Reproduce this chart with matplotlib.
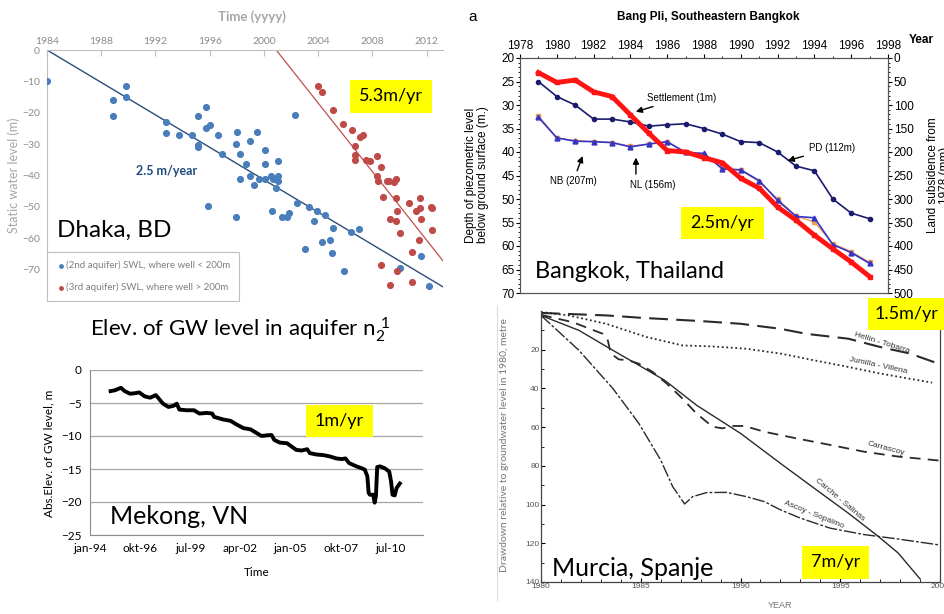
import matplotlib.pyplot as plt
from matplotlib.patches import Rectangle
from matplotlib.lines import Line2D

W, H = 944, 614
NARROW = ['Liberation Sans Narrow', 'Lato', 'DejaVu Sans']
CAL = ['Lato', 'DejaVu Sans']
ARIAL = ['Liberation Sans', 'DejaVu Sans']

# ---- Dhaka, BD (static water level, m) ----
dhaka_blue_year = [1984.0, 1988.85, 1988.85, 1989.8, 1989.8, 1992.75, 1992.75, 1993.7, 1994.7,
                   1995.15, 1995.15, 1995.15, 1995.7, 1995.7, 1996.0, 1995.9, 1996.6, 1996.9,
                   1998.0, 1997.9, 1998.2, 1998.2, 1997.9, 1998.7, 1999.0, 1999.0, 1999.3,
                   1999.5, 1999.6, 2000.1, 2000.1, 2000.1, 2000.5, 2000.6, 2000.7, 2000.9,
                   2001.0, 2001.0, 2001.0, 2001.3, 2001.7, 2001.85, 2002.3, 2002.4, 2003.0,
                   2003.3, 2003.7, 2003.9, 2004.3, 2004.5, 2004.9, 2005.0, 2005.1, 2005.9,
                   2006.4, 2007.0, 2010.0, 2011.6, 2012.2]
dhaka_blue_swl = [-9.9, -16, -21, -11.6, -15.1, -23.1, -26.3, -27, -27,
                  -21, -30.2, -31, -18.1, -25, -24, -49.7, -27, -33.2,
                  -26.2, -30, -33.2, -41.1, -53.1, -36.2, -28.9, -40, -43.1,
                  -26.2, -41.1, -32, -36.2, -41.1, -40, -51.2, -41.1, -44.1,
                  -41.9, -40, -35.5, -53.1, -53.1, -52.1, -20.7, -48.7, -63.3,
                  -50.1, -54.4, -51.2, -61.2, -52.7, -60.7, -64.7, -56.7, -70.3,
                  -58.1, -57.1, -69.5, -65.5, -75.2]
dhaka_red_year = [2004.0, 2004.3, 2005.1, 2005.85, 2006.5, 2006.7, 2006.7, 2006.7, 2007.1,
                  2007.3, 2007.5, 2007.8, 2008.3, 2008.3, 2008.4, 2008.6, 2008.8, 2009.1,
                  2009.2, 2009.6, 2009.7, 2009.7, 2009.8, 2009.3, 2009.7, 2010.0, 2008.65,
                  2009.3, 2009.8, 2010.7, 2011.2, 2011.5, 2011.5, 2011.6, 2011.4, 2010.9,
                  2010.9, 2012.3, 2012.4, 2012.4]
dhaka_red_swl = [-11.6, -13.4, -19.0, -23.5, -25.6, -30.5, -33.6, -35, -27.7,
                 -27, -35, -35.3, -33.9, -40, -41.9, -37.4, -46.7, -41.9,
                 -41.9, -42, -41.1, -47.3, -51.2, -53.8, -54.4, -58.4, -68.6,
                 -74.9, -70.3, -48.9, -51.2, -50.5, -47.1, -53.8, -60.5, -64.3,
                 -74, -50, -50.5, -57.3]
blue_trend_year = [1984.0, 2013.2]
blue_trend_swl = [0.0, -75.5]
red_trend_year = [2000.9, 2013.2]
red_trend_swl = [0.0, -67.2]

# ---- Bangkok (Bang Pli) ----
bkk_years = list(range(1979, 1998))
bkk_pd = [25.0, 28.2, 30.0, 33.0, 33.0, 33.6, 34.5, 34.2, 34.0, 35.0, 36.2, 37.8, 38.0,
          40.0, 43.0, 44.0, 50.0, 53.0, 54.2]
bkk_nb = [32.6, 37.0, 37.7, 37.8, 38.0, 38.9, 38.3, 37.8, 40.1, 40.3, 43.6, 43.8, 46.1,
          50.3, 53.7, 54.0, 59.7, 61.4, 63.7]
bkk_nl = [32.3, 37.0, 37.6, 37.8, 38.0, 38.8, 38.3, 37.9, 40.1, 40.6, 43.4, 43.9, 46.3,
          50.0, 53.6, 54.9, 59.5, 61.2, 63.5]
bkk_settlement_mm = [31, 52, 47, 72, 82, 121, 160, 197, 200, 212, 223, 256, 277,
                     317, 345, 377, 406, 434, 465]

# ---- Mekong, VN ----
mekong_year = [1995.13, 1995.37, 1995.55, 1995.7, 1995.9, 1996.2, 1996.5, 1996.7, 1997.0,
               1997.3, 1997.6, 1997.7, 1998.0, 1998.3, 1998.6, 1998.75, 1998.9, 1999.3,
               1999.7, 2000.0, 2000.4, 2000.7, 2000.8, 2001.3, 2001.7, 2002.0, 2002.4,
               2002.8, 2003.1, 2003.4, 2003.7, 2003.95, 2004.1, 2004.4, 2004.8, 2005.05,
               2005.3, 2005.6, 2005.9, 2006.05, 2006.4, 2006.8, 2007.15, 2007.5, 2007.8,
               2008.0, 2008.2, 2008.6, 2008.9, 2009.06, 2009.2, 2009.27, 2009.34, 2009.52,
               2009.6, 2009.67, 2009.74, 2009.9, 2010.16, 2010.4, 2010.5, 2010.58, 2010.7,
               2010.8, 2010.98]
mekong_level = [-3.2, -3.07, -2.86, -2.7, -3.2, -3.6, -3.5, -3.4, -4.0,
                -4.2, -3.8, -4.1, -5.1, -5.6, -5.4, -5.1, -6.0, -6.1,
                -6.1, -6.6, -6.5, -6.6, -7.1, -7.5, -7.7, -8.2, -8.8,
                -9.0, -9.5, -10.0, -9.9, -9.85, -10.6, -11.0, -11.1, -11.6,
                -12.1, -12.2, -12.0, -12.6, -12.8, -12.9, -13.1, -13.4, -13.5,
                -13.4, -14.1, -14.6, -14.9, -15.1, -16.1, -18.6, -18.9, -18.9,
                -20.1, -19.1, -14.7, -14.6, -14.9, -15.4, -16.9, -18.9, -19.0,
                -17.9, -17.2]
mekong_tick_pos = [1994.0, 1996.75, 1999.5, 2002.25, 2005.0, 2007.75, 2010.5]
mekong_tick_lab = ['jan-94', 'okt-96', 'jul-99', 'apr-02', 'jan-05', 'okt-07', 'jul-10']

# ---- Murcia, Spanje (drawdown, m) ----
hellin_year = [1980.0, 1983.3, 1985.0, 1988.0, 1990.0, 1992.0, 1993.3, 1995.4, 1997.0, 1998.5, 2000.0]
hellin_dd = [1.0, 2.3, 3.5, 5.2, 6.6, 9.2, 11.8, 14.3, 18.6, 22.0, 27.5]
jumilla_year = [1980.0, 1981.4, 1983.3, 1985.3, 1987.1, 1988.6, 1990.3, 1992.0, 1993.7, 1995.4, 1997.0, 1999.6]
jumilla_dd = [0.5, 2.3, 6.7, 13.5, 17.8, 18.3, 19.5, 22.0, 25.5, 28.9, 32.3, 37.0]
carrascoy_year = [1980.0, 1981.6, 1983.1, 1983.35, 1983.5, 1983.9, 1984.4, 1984.9, 1985.6, 1986.3,
                  1987.0, 1987.8, 1988.6, 1989.1, 1989.6, 1990.2, 1991.2, 1992.8, 1994.5,
                  1996.2, 1997.9, 2000.0]
carrascoy_dd = [2.0, 5.8, 11.8, 15.2, 22.0, 25.0, 25.5, 27.2, 31.5, 37.5,
                44.3, 53.0, 59.8, 60.6, 59.4, 59.4, 62.4, 65.8, 69.2,
                72.7, 75.2, 77.3]
carche_year = [1980.0, 1981.9, 1983.6, 1984.9, 1986.2, 1987.8, 1990.0, 1992.0, 1993.7, 1995.4,
               1996.9, 1997.9, 1999.0]
carche_dd = [2.3, 10.0, 20.3, 28.0, 35.8, 48.7, 63.2, 78.7, 91.6, 104.4, 116.4, 125.0, 138.4]
ascoy_year = [1980.0, 1981.9, 1983.6, 1984.9, 1986.0, 1986.6, 1987.2, 1987.6, 1988.3, 1989.3,
              1990.3, 1991.2, 1992.0, 1993.0, 1994.5, 1996.2, 1997.9, 2000.0]
ascoy_dd = [2.3, 20.3, 40.0, 58.0, 77.0, 90.7, 99.7, 95.9, 93.8, 93.7,
            95.9, 98.5, 102.7, 107.0, 112.2, 115.5, 117.8, 120.9]


fig = plt.figure(figsize=(W / 100, H / 100), dpi=100)


def ax_at(l, t, r, b):
    return fig.add_axes([l / W, 1 - b / H, (r - l) / W, (b - t) / H])


def ftext(px, py, s, **kw):
    return fig.text(px / W, 1 - py / H, s, **kw)


def yellow(l, t, r, b, s):
    fig.add_artist(Rectangle((l / W, 1 - b / H), (r - l) / W, (b - t) / H,
                             transform=fig.transFigure, facecolor='#ffff00',
                             edgecolor='none', zorder=10))
    ftext((l + r) / 2, (t + b) / 2, s, ha='center', va='center', fontsize=13,
          family=NARROW, zorder=11)


# ================= Dhaka =================
ax1 = ax_at(47, 50, 443, 301)
ax1.set_xlim(1984, 2013.2)
ax1.set_ylim(-80, 0)
ax1.xaxis.tick_top()
ax1.set_xticks(range(1984, 2013, 4))
ax1.set_yticks(range(0, -71, -10))
for s in ['bottom', 'right']:
    ax1.spines[s].set_visible(False)
for s in ['top', 'left']:
    ax1.spines[s].set_color('#bfbfbf')
ax1.tick_params(axis='x', colors='#bfbfbf', labelcolor='#8c8c8c', labelsize=7.5,
                direction='in', length=4, pad=3)
ax1.tick_params(axis='y', length=0, labelcolor='#8c8c8c', labelsize=7.5, pad=5)
for lab in ax1.get_xticklabels() + ax1.get_yticklabels():
    lab.set_family(CAL)
ax1.plot(blue_trend_year, blue_trend_swl, color='#2c4d7a', lw=1, zorder=2)
ax1.plot(red_trend_year, red_trend_swl, color='#c0504d', lw=0.9, zorder=2)
ax1.scatter(dhaka_blue_year, dhaka_blue_swl, s=17, color='#4a7ebb', zorder=3,
            label='(2nd aquifer) SWL, where well < 200m')
ax1.scatter(dhaka_red_year, dhaka_red_swl, s=17, color='#be4b48', zorder=3,
            label='(3rd aquifer) SWL, where well > 200m')
leg = ax1.legend(loc='lower left', bbox_to_anchor=(0, 0), borderaxespad=0, fontsize=7,
                 frameon=True, fancybox=False, edgecolor='#bfbfbf', framealpha=1,
                 handletextpad=0.1, handlelength=1.0, labelspacing=1.3, borderpad=0.9,
                 markerscale=0.6, prop={'family': CAL, 'size': 7})
for t in leg.get_texts():
    t.set_color('#7f7f7f')
leg.get_frame().set_linewidth(0.8)
ftext(252, 17, 'Time (yyyy)', ha='center', va='center', fontsize=9.5, color='#a6a6a6',
      weight='bold', family=CAL)
ftext(14, 175, 'Static water level (m)', ha='center', va='center', rotation=90,
      fontsize=9, color='#a6a6a6', family=CAL)
ftext(167, 171, '2.5 m/year', ha='center', va='center', fontsize=9, color='#1f497d',
      weight='bold', family=CAL)
ftext(57, 230, 'Dhaka, BD', ha='left', va='center', fontsize=17.5, family=CAL)
yellow(350, 80, 432, 113, '5.3m/yr')

# ================= Bangkok =================
ax2 = ax_at(520, 58, 888, 293)
ax2.set_xlim(1978, 1998)
ax2.set_ylim(70, 20)
ax2.xaxis.tick_top()
ax2.set_xticks(range(1978, 1999, 2))
ax2.set_xticks(range(1978, 1999), minor=True)
ax2.set_yticks(range(20, 71, 5))
ax2.set_yticks(range(20, 71), minor=True)
ax2.tick_params(which='both', direction='out', labelsize=8.5, pad=1)
ax2.tick_params(which='major', length=3)
ax2.tick_params(which='minor', length=1.5)
ax2.plot(bkk_years, bkk_nl, color='#f0a050', lw=1, marker='s', ms=2.5, zorder=2)
ax2.plot(bkk_years, bkk_nb, color='#3434c8', lw=1.2, marker='^', ms=3.5, zorder=3)
ax2.plot(bkk_years, bkk_pd, color='#1b1b6e', lw=1.2, marker='o', ms=3, zorder=3)
ax2r = ax2.twinx()
ax2r.set_ylim(500, 0)
ax2r.set_yticks(range(0, 501, 50))
ax2r.set_yticks(range(0, 501, 10), minor=True)
ax2r.tick_params(which='both', direction='out', labelsize=8.5, pad=1)
ax2r.tick_params(which='major', length=3)
ax2r.tick_params(which='minor', length=1.5)
ax2r.plot(bkk_years, bkk_settlement_mm, color='#ff1414', lw=3.5, marker='s', ms=3,
          solid_joinstyle='round', zorder=4)
for a in (ax2, ax2r):
    for lab in a.get_xticklabels() + a.get_yticklabels():
        lab.set_family(ARIAL)
    for s in a.spines.values():
        s.set_color('#555555')
arrow = dict(arrowstyle='-|>', color='black', lw=1, mutation_scale=9)
ax2.annotate('Settlement (1m)', xy=(1984.15, 31.6), xytext=(1984.9, 28.5),
             fontsize=7, family=ARIAL, va='center', ha='left', arrowprops=arrow)
ax2.annotate('PD (112m)', xy=(1992.4, 42.0), xytext=(1993.7, 39.2),
             fontsize=7, family=ARIAL, va='center', ha='left', arrowprops=arrow)
ax2.annotate('NB (207m)', xy=(1981.45, 40.3), xytext=(1980.9, 46.2),
             fontsize=7, family=ARIAL, va='center', ha='center', arrowprops=arrow)
ax2.annotate('NL (156m)', xy=(1984.3, 40.6), xytext=(1985.2, 47.1),
             fontsize=7, family=ARIAL, va='center', ha='center')
ax2.annotate('', xy=(1984.3, 40.6), xytext=(1984.3, 45.3), arrowprops=arrow)
ftext(473, 17, 'a', ha='center', va='center', fontsize=11, family=ARIAL)
ftext(708, 17, 'Bang Pli, Southeastern Bangkok', ha='center', va='center', fontsize=8.5,
      weight='bold', family=ARIAL)
ftext(921, 40, 'Year', ha='center', va='center', fontsize=8.5, weight='bold', family=ARIAL)
ftext(477, 175, 'Depth of piezometric level\nbelow ground surface (m.)', ha='center',
      va='center', rotation=90, fontsize=8.5, family=ARIAL, linespacing=1.1)
ftext(939, 175, 'Land subsidence from\n1978 (mm)', ha='center', va='center', rotation=90,
      fontsize=8.5, family=ARIAL, linespacing=1.1)
ftext(535, 271, 'Bangkok, Thailand', ha='left', va='center', fontsize=17, family=CAL)
yellow(681, 207, 764, 239, '2.5m/yr')

# ================= Mekong =================
ax3 = ax_at(90, 370, 423, 535)
ax3.set_xlim(1994, 2012.25)
ax3.set_ylim(-25, 0)
ax3.set_yticks(range(0, -26, -5))
ax3.set_xticks(mekong_tick_pos)
ax3.set_xticklabels(mekong_tick_lab)
ax3.grid(axis='y', color='#a6a6a6', lw=0.9)
ax3.set_axisbelow(True)
for s in ['top', 'right']:
    ax3.spines[s].set_visible(False)
for s in ['left', 'bottom']:
    ax3.spines[s].set_color('#8c8c8c')
ax3.tick_params(length=0, labelsize=8.5, pad=6)
for lab in ax3.get_xticklabels() + ax3.get_yticklabels():
    lab.set_family(CAL)
ax3.plot(mekong_year, mekong_level, color='black', lw=2.8, solid_joinstyle='round')
ftext(240, 330, r'Elev. of GW level in aquifer $\mathregular{n_2^{\ 1}}$', ha='center',
      va='center', fontsize=16, family=CAL)
ftext(49, 453, 'Abs.Elev. of GW level, m', ha='center', va='center', rotation=90,
      fontsize=8.5, family=CAL)
ftext(257, 573, 'Time', ha='center', va='center', fontsize=8.5, family=CAL)
ftext(110, 517, 'Mekong, VN', ha='left', va='center', fontsize=18, family=CAL)
yellow(306, 405, 373, 437, '1m/yr')

# ================= Murcia =================
ax4 = ax_at(541, 311, 940, 582)
ax4.set_xlim(1980, 2000)
ax4.set_ylim(140, 0)
ax4.set_xticks(range(1980, 2001, 5))
ax4.set_xticks(range(1980, 2001), minor=True)
ax4.set_yticks(range(20, 141, 20))
ax4.set_yticks(range(10, 141, 10), minor=True)
ax4.spines['top'].set_visible(False)
for s in ['left', 'bottom', 'right']:
    ax4.spines[s].set_color('#444444')
    ax4.spines[s].set_linewidth(0.9)
ax4.tick_params(which='both', direction='in', labelsize=6, labelcolor='#555555', pad=1,
                right=False)
ax4.tick_params(which='major', length=3)
ax4.tick_params(which='minor', length=2)
c4 = '#2a2a2a'
ax4.plot(hellin_year, hellin_dd, color=c4, lw=1.5, dashes=(9, 4))
ax4.plot(jumilla_year, jumilla_dd, color=c4, lw=1.3, dashes=(1, 1.5))
ax4.plot(carrascoy_year, carrascoy_dd, color=c4, lw=1.3, dashes=(6, 4))
ax4.plot(carche_year, carche_dd, color=c4, lw=1.0)
ax4.plot(ascoy_year, ascoy_dd, color=c4, lw=1.0, dashes=(9, 1.5, 2, 1.5))
for (x, y, s, rot) in [(1997.1, 16.6, 'Hellin - Tobarra', -17),
                       (1996.9, 28.4, 'Jumilla - Villena', -12),
                       (1997.3, 70.9, 'Carrascoy', -15),
                       (1995.0, 97.8, 'Carche - Salinas', -40),
                       (1993.7, 105.5, 'Ascoy - Sopalmo', -22)]:
    ax4.text(x, y, s, rotation=rot, fontsize=6, color='#333333', ha='center',
             va='center', family=ARIAL, rotation_mode='anchor')
for lab in ax4.get_xticklabels() + ax4.get_yticklabels():
    lab.set_family(ARIAL)
ftext(780, 605, 'YEAR', ha='center', va='center', fontsize=6.5, color='#777777', family=ARIAL)
ftext(505, 318, 'Drawdown relative to groundwater level in 1980, metre', ha='center',
      va='top', rotation=90, fontsize=7.5, color='#777777', family=CAL)
ftext(552, 568, 'Murcia, Spanje', ha='left', va='center', fontsize=18, family=CAL)
yellow(802, 546, 869, 579, '7m/yr')
yellow(868, 298, 944, 330, '1.5m/yr')

# thin panel separator
fig.add_artist(Line2D([497 / W, 497 / W], [1 - 305 / H, 1 - 600 / H],
                      transform=fig.transFigure, color='#dddddd', lw=0.8))

fig.savefig('out.png', dpi=100)
